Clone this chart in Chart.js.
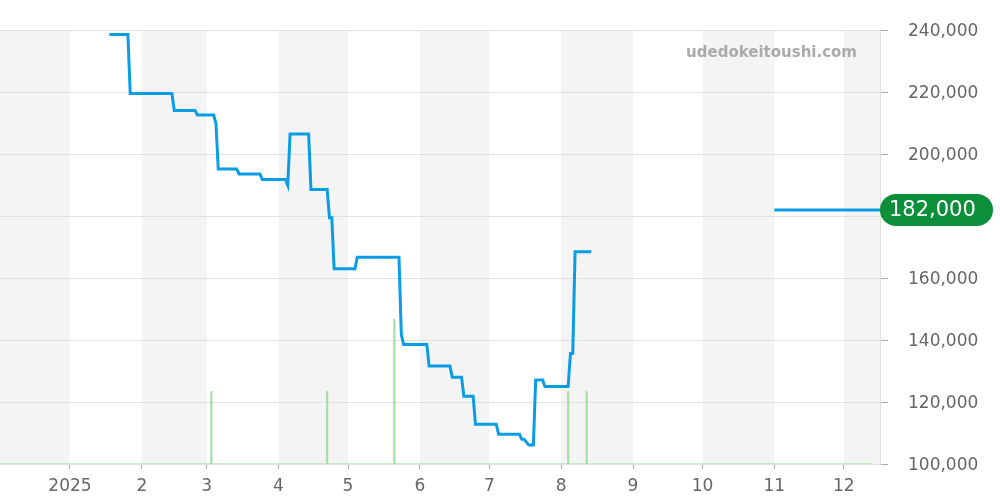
<!DOCTYPE html>
<html>
<head>
<meta charset="utf-8">
<script src="https://cdn.jsdelivr.net/npm/chart.js@4"></script>
<style>
  html, body { margin: 0; padding: 0; background: #fff; }
  #wrap { width: 1000px; height: 500px; }
</style>
</head>
<body>
<div id="wrap"><canvas id="myChart" width="1000" height="500"></canvas></div>
<script>
// days counted from 2025-01-01 (day 0)
const monthStarts = [-31, 0, 31, 59, 90, 120, 151, 181, 212, 243, 273, 304, 334, 365];
const monthLabels = ["12", "2025", "2", "3", "4", "5", "6", "7", "8", "9", "10", "11", "12", "2026"];
const yTicks = [100000, 120000, 140000, 160000, 180000, 200000, 220000, 240000];

// price history
const priceDays = [17, 25, 26, 44, 45, 54, 55, 62, 63, 64, 72, 73, 82, 83, 93, 94, 95, 103, 104, 111, 112, 113, 114,
  123, 124, 142, 143, 144, 154, 155, 164, 165, 169, 170, 174, 175, 184, 185, 194, 195, 196, 198, 200, 201, 204, 205,
  215, 216, 217, 218, 225];
const priceValues = [238600, 238600, 219600, 219600, 214100, 214100, 212600, 212600, 209900, 195200, 195200, 193600,
  193600, 191800, 191800, 190000, 206500, 206500, 188600, 188600, 179500, 179500, 163000,
  163000, 166700, 166700, 141800, 138600, 138600, 131600, 131600, 128000, 128000, 121900, 121900, 112800, 112800,
  109600, 109600, 108000, 108000, 106100, 106100, 127100, 127100, 125000,
  125000, 135700, 135700, 168500, 168500];

// current price
const currentDays = [304, 350];
const currentValues = [182000, 182000];

// trade volume
const volumeDays = [61, 111, 140, 215, 223];
const volumeValues = [1, 1, 2, 1, 1];
const volumeBaseDays = [-30, 346];

const xMin = -30.2, xMax = 349.6;

const toPoints = (xs, ys) => xs.map((x, i) => ({ x: x, y: ys[i] }));

const bandsPlugin = {
  id: 'bands',
  beforeDraw(chart) {
    const { ctx, chartArea, scales } = chart;
    ctx.save();
    ctx.fillStyle = '#f4f4f4';
    for (let i = 0; i < monthStarts.length - 1; i += 2) {
      let x1 = Math.max(scales.x.getPixelForValue(monthStarts[i]), chartArea.left);
      let x2 = Math.min(scales.x.getPixelForValue(monthStarts[i + 1]), chartArea.right);
      if (x2 > x1) ctx.fillRect(x1, chartArea.top, x2 - x1, chartArea.bottom - chartArea.top);
    }
    ctx.restore();
  }
};

const overlayPlugin = {
  id: 'overlay',
  afterDraw(chart) {
    const { ctx, chartArea, scales } = chart;
    ctx.save();
    // watermark
    ctx.font = 'bold 15px "DejaVu Sans"';
    ctx.fillStyle = '#aaaaaa';
    ctx.textAlign = 'right';
    ctx.textBaseline = 'middle';
    ctx.fillText('udedokeitoushi.com', 857, 53);

    // current price pill
    const val = currentValues[currentValues.length - 1];
    const y = scales.y.getPixelForValue(val);
    const x = chartArea.right;
    const w = 113, h = 32, r = 16;
    ctx.fillStyle = '#0b8f3b';
    ctx.beginPath();
    ctx.moveTo(x + r, y - h / 2);
    ctx.lineTo(x + w - r, y - h / 2);
    ctx.arc(x + w - r, y, r, -Math.PI / 2, Math.PI / 2);
    ctx.lineTo(x + r, y + h / 2);
    ctx.arc(x + r, y, r, Math.PI / 2, Math.PI * 1.5);
    ctx.closePath();
    ctx.fill();
    ctx.font = '21px "DejaVu Sans"';
    ctx.fillStyle = '#ffffff';
    ctx.textAlign = 'left';
    ctx.fillText(val.toLocaleString('en-US'), x + 9, y + 1);
    ctx.restore();
  }
};

new Chart(document.getElementById('myChart'), {
  data: {
    datasets: [
      {
        type: 'line',
        data: toPoints(priceDays, priceValues),
        borderColor: '#0a9de3',
        borderWidth: 3,
        pointRadius: 0,
        tension: 0,
        yAxisID: 'y',
        order: 0
      },
      {
        type: 'line',
        data: toPoints(currentDays, currentValues),
        borderColor: '#0a9de3',
        borderWidth: 3,
        pointRadius: 0,
        yAxisID: 'y',
        order: 0
      },
      {
        type: 'bar',
        data: toPoints(volumeDays, volumeValues),
        backgroundColor: '#a6dca6',
        barThickness: 1.5,
        yAxisID: 'yv',
        order: 2
      },
      {
        type: 'line',
        data: toPoints(volumeBaseDays, [0, 0]),
        borderColor: '#9fd69f',
        borderWidth: 2,
        borderDash: [1, 1],
        pointRadius: 0,
        yAxisID: 'yv',
        order: 3
      }
    ]
  },
  options: {
    responsive: false,
    animation: false,
    devicePixelRatio: 1,
    layout: { padding: { top: 30, left: 0, right: 0, bottom: 0 } },
    plugins: {
      legend: { display: false },
      tooltip: { enabled: false }
    },
    scales: {
      x: {
        type: 'linear',
        min: xMin,
        max: xMax,
        offset: false,
        afterBuildTicks: (scale) => {
          scale.ticks = monthStarts.filter(v => v >= xMin && v <= xMax).map(v => ({ value: v }));
        },
        afterFit: (scale) => { scale.height = 36; },
        ticks: {
          autoSkip: false,
          maxRotation: 0,
          padding: 7,
          color: '#666',
          font: { family: 'DejaVu Sans', size: 17 },
          callback: (v) => monthLabels[monthStarts.indexOf(v)]
        },
        grid: { offset: false, drawOnChartArea: false, drawTicks: true, tickLength: 5, tickColor: '#aaa' },
        border: { display: false }
      },
      y: {
        position: 'right',
        min: 100000,
        max: 240000,
        afterBuildTicks: (scale) => {
          scale.ticks = yTicks.map(v => ({ value: v }));
        },
        afterFit: (scale) => { scale.width = 120; },
        ticks: {
          padding: 20,
          labelOffset: 1.5,
          color: '#666',
          font: { family: 'DejaVu Sans', size: 17 },
          callback: (v) => v.toLocaleString('en-US')
        },
        grid: { color: '#e0e0e0', tickLength: 8, tickColor: '#aaa' },
        border: { display: true, color: '#e0e0e0' }
      },
      yv: {
        display: false,
        min: 0,
        max: 6
      }
    }
  },
  plugins: [bandsPlugin, overlayPlugin]
});
</script>
</body>
</html>
